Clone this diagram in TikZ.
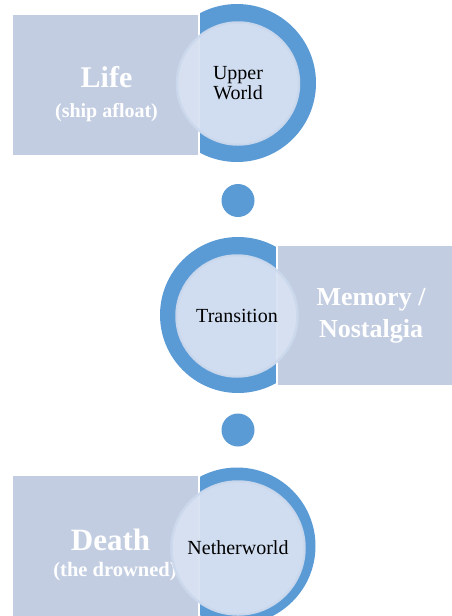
\documentclass[tikz,border=0pt]{standalone}
\usepackage{fontspec}
\setmainfont{Liberation Serif}
\usetikzlibrary{positioning}
\definecolor{cRing}{HTML}{5B9BD5}
\definecolor{cBox}{HTML}{C2CDE1}
\definecolor{cDisc}{HTML}{D8E2F2}
\definecolor{cRim}{HTML}{CCD9ED}
\tikzset{
  ring/.style={circle,fill=cRing,inner sep=0pt},
  band/.style={draw=white,line width=1.2pt,fill=cBox,inner sep=0pt,align=center,
               text=white,font=\bfseries},
  disc/.style={circle,draw=cRim,line width=2.5pt,fill=cDisc,fill opacity=0.94,draw opacity=0.94,
               text opacity=1,inner sep=0pt,align=center,font=\fontsize{20}{20}\selectfont},
  dot/.style={circle,fill=cRing,inner sep=0pt,minimum size=33pt},
}
\begin{document}
\begin{tikzpicture}[x=1pt,y=-1pt]
\useasboundingbox (0,0) rectangle (452,616);
% upper world
\node[ring,minimum size=158pt] (r1) at (237,83) {};
\node[band,minimum width=187pt,minimum height=142pt] (b1) at (105.5,85) {};
\node[white,font=\bfseries\fontsize{30}{32}\selectfont] (life) at (106.5,77) {Life};
\node[white,font=\bfseries\fontsize{20}{22}\selectfont] (ship) at (106.5,113) {(ship afloat)};
\node[disc,minimum size=122pt] (d1) at (238,83.5) {Upper\\World};
% transition
\node[dot] (p1) at (238,200.5) {};
\node[ring,minimum size=156pt] (r2) at (238,315) {};
\node[band,minimum width=176pt,minimum height=141pt,font=\bfseries\fontsize{26}{32}\selectfont]
  (b2) at (365,315.5) {\hspace*{12pt}Memory /\\\hspace*{12pt}Nostalgia};
\node[disc,minimum size=121pt] (d2) at (237,316) {Transition};
% netherworld
\node[dot] (p2) at (238,430) {};
\node[ring,minimum size=157pt] (r3) at (237,546) {};
\node[band,minimum width=187pt,minimum height=145pt] (b3) at (105.5,548) {};
\node[white,font=\bfseries\fontsize{31}{33}\selectfont] (death) at (110.5,540) {Death};
\node[white,font=\bfseries\fontsize{20.5}{22}\selectfont] (drown) at (115,572) {(the drowned)};
\node[disc,minimum size=133pt] (d3) at (238,548) {Netherworld};
\end{tikzpicture}
\end{document}
